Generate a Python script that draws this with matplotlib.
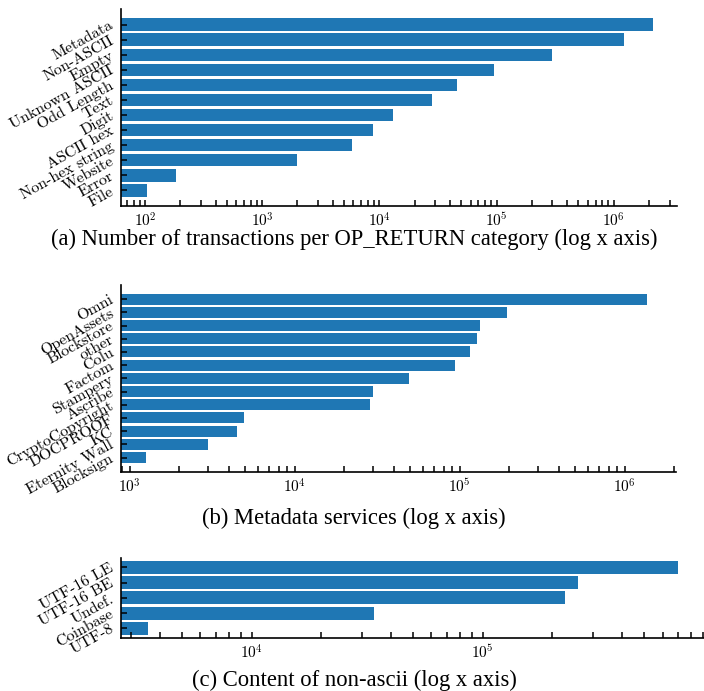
import numpy as np
import matplotlib
matplotlib.use('Agg')
import matplotlib.pyplot as plt

# 字体: 刻度用 Computer Modern 风格, 图注用 Times 风格
plt.rcParams['font.family'] = ['cmr10', 'DejaVu Serif']
plt.rcParams['mathtext.fontset'] = 'cm'
plt.rcParams['axes.formatter.use_mathtext'] = True

# (a) OP_RETURN 类别
cat_labels = ['Metadata', 'Non-ASCII', 'Empty', 'Unknown ASCII', 'Odd Length', 'Text',
              'Digit', 'ASCII hex', 'Non-hex string', 'Website', 'Error', 'File']
cat_counts = [2.15e6, 1.22e6, 2.96e5, 9.6e4, 4.6e4, 2.8e4,
              1.32e4, 8.9e3, 5.8e3, 2.0e3, 185, 104]

# (b) 元数据服务
svc_labels = ['Omni', 'OpenAssets', 'Blockstore', 'other', 'Colu', 'Factom', 'Stampery',
              'Ascribe', 'CryptoCopyright', 'DOCPROOF', 'KC', 'Eternity Wall', 'Blocksign']
svc_counts = [1.37e6, 1.94e5, 1.33e5, 1.27e5, 1.15e5, 9.4e4, 4.97e4,
              3.0e4, 2.87e4, 4.93e3, 4.49e3, 2.98e3, 1.26e3]

# (c) 非 ASCII 内容
enc_labels = ['UTF-16 LE', 'UTF-16 BE', 'Undef.', 'Coinbase', 'UTF-8']
enc_counts = [7.0e5, 2.58e5, 2.28e5, 3.39e4, 3.56e3]

captions = ['(a) Number of transactions per OP_RETURN category (log x axis)',
            '(b) Metadata services (log x axis)',
            '(c) Content of non-ascii (log x axis)']

W, H = 704, 691


def draw_panel(ax, labels, values, xlim, margin, bar_h):
    n = len(labels)
    y = np.arange(n)
    ax.barh(y, values, height=bar_h, color='#1f77b4')
    ax.set_xscale('log')
    ax.set_xlim(*xlim)
    ax.set_ylim(n - 1 + margin, -margin)
    ax.set_yticks(y)
    ax.set_yticklabels(labels, rotation=29, ha='right', va='center',
                       rotation_mode='anchor', fontsize=11.5)
    for s in ['top', 'right']:
        ax.spines[s].set_visible(False)
    for s in ['left', 'bottom']:
        ax.spines[s].set_linewidth(1.2)
    ax.tick_params(axis='both', which='both', direction='in', width=1.1, length=4.3)
    ax.tick_params(axis='x', which='major', labelsize=11, pad=4)
    ax.tick_params(axis='y', pad=6)


fig = plt.figure(figsize=(W / 100, H / 100), dpi=100)

def axes_px(left, top, right, bottom):
    return fig.add_axes([left / W, 1 - bottom / H, (right - left) / W, (bottom - top) / H])

ax_a = axes_px(121, 9.3, 677.3, 205.7)
draw_panel(ax_a, cat_labels, cat_counts, (62.4, 3.49e6), 1.01, 0.82)

ax_b = axes_px(121, 285, 676, 471.7)
draw_panel(ax_b, svc_labels, svc_counts, (888, 2.05e6), 1.07, 0.83)

ax_c = axes_px(121, 557.7, 704, 638)
draw_panel(ax_c, enc_labels, enc_counts, (2.72e3, 9.07e5), 0.64, 0.86)

for cap, yc in zip(captions, [239, 518, 680]):
    fig.text(0.503, 1 - yc / H, cap, ha='center', va='center',
             family='Liberation Serif', fontsize=16.3)

fig.savefig('out.png', dpi=100)
